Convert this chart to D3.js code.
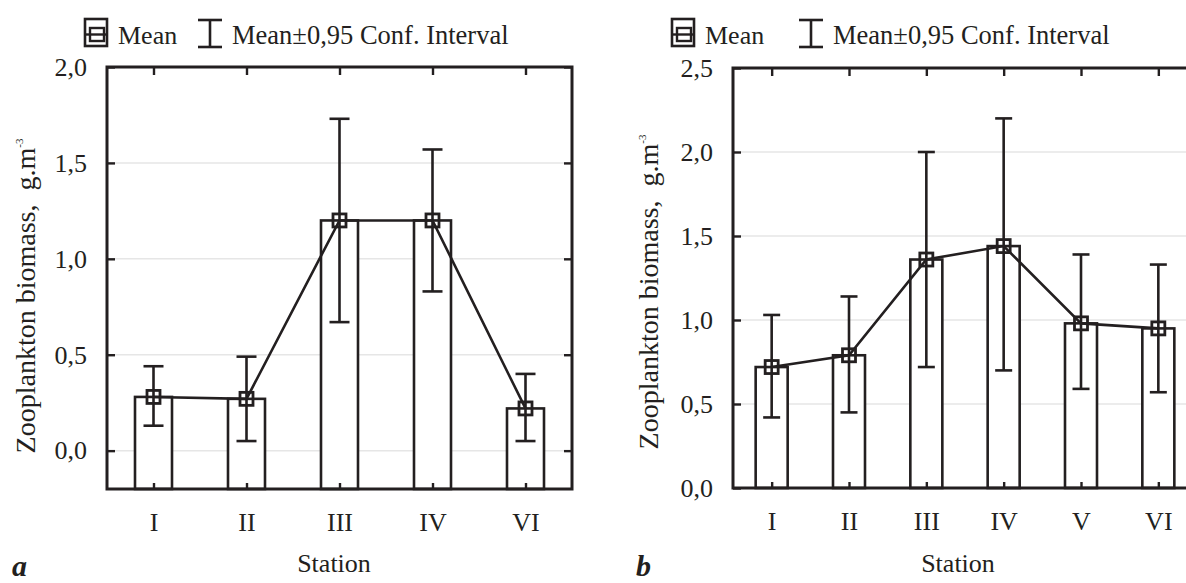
<!doctype html>
<html>
<head>
<meta charset="utf-8">
<style>
  body { margin: 0; background: #fff; }
  svg text { font-family: "Liberation Serif", "Times New Roman", serif; fill: #231f20; }
  .tick line { stroke: #231f20; stroke-width: 2.4; }
  .domain { display: none; }
</style>
<script src="https://d3js.org/d3.v7.min.js"></script>
</head>
<body>
<svg width="1186" height="583"></svg>
<script>
// panel a
var stationsA = ["I", "II", "III", "IV", "VI"];
var meanA = [0.28, 0.27, 1.20, 1.20, 0.22];
var lowA  = [0.13, 0.05, 0.67, 0.83, 0.05];
var highA = [0.44, 0.49, 1.73, 1.57, 0.40];
var ticksA = [0, 0.5, 1.0, 1.5, 2.0];

// panel b
var stationsB = ["I", "II", "III", "IV", "V", "VI"];
var meanB = [0.72, 0.79, 1.36, 1.44, 0.98, 0.95];
var lowB  = [0.42, 0.45, 0.72, 0.70, 0.59, 0.57];
var highB = [1.03, 1.14, 2.00, 2.20, 1.39, 1.33];
var ticksB = [0, 0.5, 1.0, 1.5, 2.0, 2.5];

var ink = "#231f20";
var lw = 2.6;
var svg = d3.select("svg");
var comma = d3.formatLocale({decimal: ",", thousands: " ", grouping: [3], currency: ["", ""]}).format(".1f");

function panel(o) {
    var x = d3.scalePoint().domain(o.cats).range([o.x0, o.x1]).padding(0.5);
    var y = d3.scaleLinear().domain(o.ydom).range([o.y1, o.y0]);
    var g = svg.append("g");
    var rows = o.cats.map(function(c, i) { return {c: c, m: o.mean[i], lo: o.low[i], hi: o.high[i]}; });

    // grid
    g.selectAll(".grid").data(o.ticks.filter(function(t) { return t > o.ydom[0] && t < o.ydom[1]; }))
      .enter().append("line")
      .attr("x1", o.x0).attr("x2", o.x1)
      .attr("y1", function(d) { return y(d); }).attr("y2", function(d) { return y(d); })
      .attr("stroke", "#e6e6e6").attr("stroke-width", 1.5);

    // bars
    g.selectAll(".bar").data(rows).enter().append("rect")
      .attr("x", function(d) { return x(d.c) - o.barW / 2; })
      .attr("y", function(d) { return y(d.m); })
      .attr("width", o.barW)
      .attr("height", function(d) { return y(o.ydom[0]) - y(d.m); })
      .attr("fill", "#fff").attr("stroke", ink).attr("stroke-width", lw);

    // error bars
    var eb = g.selectAll(".eb").data(rows).enter().append("g");
    eb.append("line")
      .attr("x1", function(d) { return x(d.c); }).attr("x2", function(d) { return x(d.c); })
      .attr("y1", function(d) { return y(d.lo); }).attr("y2", function(d) { return y(d.hi); });
    eb.append("line")
      .attr("x1", function(d) { return x(d.c) - o.capW / 2; }).attr("x2", function(d) { return x(d.c) + o.capW / 2; })
      .attr("y1", function(d) { return y(d.lo); }).attr("y2", function(d) { return y(d.lo); });
    eb.append("line")
      .attr("x1", function(d) { return x(d.c) - o.capW / 2; }).attr("x2", function(d) { return x(d.c) + o.capW / 2; })
      .attr("y1", function(d) { return y(d.hi); }).attr("y2", function(d) { return y(d.hi); });
    eb.selectAll("line").attr("stroke", ink).attr("stroke-width", lw);

    // mean line
    g.append("path").datum(rows)
      .attr("d", d3.line().x(function(d) { return x(d.c); }).y(function(d) { return y(d.m); }))
      .attr("fill", "none").attr("stroke", ink).attr("stroke-width", lw);

    // markers
    g.selectAll(".mk").data(rows).enter().append("rect")
      .attr("x", function(d) { return x(d.c) - 6.5; })
      .attr("y", function(d) { return y(d.m) - 6.5; })
      .attr("width", 13).attr("height", 13)
      .attr("fill", "none").attr("stroke", ink).attr("stroke-width", 2.8);

    // axes, ticks pointing inward
    g.append("g").attr("transform", "translate(" + o.x0 + ",0)")
      .call(d3.axisLeft(y).tickValues(o.ticks).tickSizeInner(-8).tickSizeOuter(0).tickPadding(20).tickFormat(comma))
      .selectAll("text").style("font-size", "26px").attr("fill", ink);
    g.append("g").attr("transform", "translate(" + o.x1 + ",0)")
      .call(d3.axisRight(y).tickValues(o.ticks).tickSizeInner(-8).tickSizeOuter(0).tickFormat(""));
    g.append("g").attr("transform", "translate(0," + o.y1 + ")")
      .call(d3.axisBottom(x).tickSizeInner(-6).tickSizeOuter(0).tickPadding(24))
      .selectAll("text").style("font-size", "26px").attr("fill", ink);
    g.append("g").attr("transform", "translate(0," + o.y0 + ")")
      .call(d3.axisTop(x).tickSizeInner(-8).tickSizeOuter(0).tickFormat(""));

    // frame
    g.append("rect")
      .attr("x", o.x0).attr("y", o.y0).attr("width", o.x1 - o.x0).attr("height", o.y1 - o.y0)
      .attr("fill", "none").attr("stroke", ink).attr("stroke-width", 3);

    // titles
    g.append("text").attr("x", o.stX).attr("y", 572).attr("text-anchor", "middle")
      .style("font-size", "26px").text("Station");
    var yt = g.append("text")
      .attr("transform", "translate(" + o.ytX + "," + o.ytY + ") rotate(-90)")
      .attr("text-anchor", "middle").style("font-size", "28px");
    yt.append("tspan").text("Zooplankton biomass,\u00a0 g.m");
    yt.append("tspan").attr("dy", -12).style("font-size", "11px").text("-3");

    // legend
    var lg = g.append("g").attr("transform", "translate(" + o.legX + ",0)");
    lg.append("rect").attr("x", 0).attr("y", 19).attr("width", 22).attr("height", 27)
      .attr("fill", "none").attr("stroke", ink).attr("stroke-width", 2.6);
    lg.append("rect").attr("x", 5).attr("y", 28).attr("width", 14).attr("height", 13)
      .attr("fill", "none").attr("stroke", ink).attr("stroke-width", 2.4);
    lg.append("line").attr("x1", 0).attr("x2", 22).attr("y1", 34.5).attr("y2", 34.5)
      .attr("stroke", ink).attr("stroke-width", 2.4);
    lg.append("text").attr("x", 33).attr("y", 44).style("font-size", "26px").text("Mean");
    var ib = o.ibX - o.legX;
    lg.append("line").attr("x1", ib).attr("x2", ib).attr("y1", 20).attr("y2", 47).attr("stroke", ink).attr("stroke-width", lw);
    lg.append("line").attr("x1", ib - 12).attr("x2", ib + 12).attr("y1", 20).attr("y2", 20).attr("stroke", ink).attr("stroke-width", lw);
    lg.append("line").attr("x1", ib - 12).attr("x2", ib + 12).attr("y1", 47).attr("y2", 47).attr("stroke", ink).attr("stroke-width", lw);
    lg.append("text").attr("x", ib + 22).attr("y", 44).style("font-size", "26.5px").text("Mean\u00b10,95 Conf. Interval");

    // panel letter
    svg.append("text").attr("x", o.letX).attr("y", 576)
      .style("font-size", "30px").style("font-weight", "bold").style("font-style", "italic")
      .text(o.letter);
}

panel({cats: stationsA, mean: meanA, low: lowA, high: highA, ticks: ticksA, ydom: [-0.2, 2.0],
       x0: 107, x1: 572, y0: 67, y1: 489, barW: 37, capW: 20,
       stX: 334, ytX: 35, ytY: 296, legX: 85, ibX: 210, letX: 12, letter: "a"});
panel({cats: stationsB, mean: meanB, low: lowB, high: highB, ticks: ticksB, ydom: [0, 2.5],
       x0: 733, x1: 1197, y0: 68, y1: 488, barW: 32, capW: 17,
       stX: 958, ytX: 658, ytY: 292, legX: 672, ibX: 811, letX: 636, letter: "b"});
</script>
</body>
</html>
